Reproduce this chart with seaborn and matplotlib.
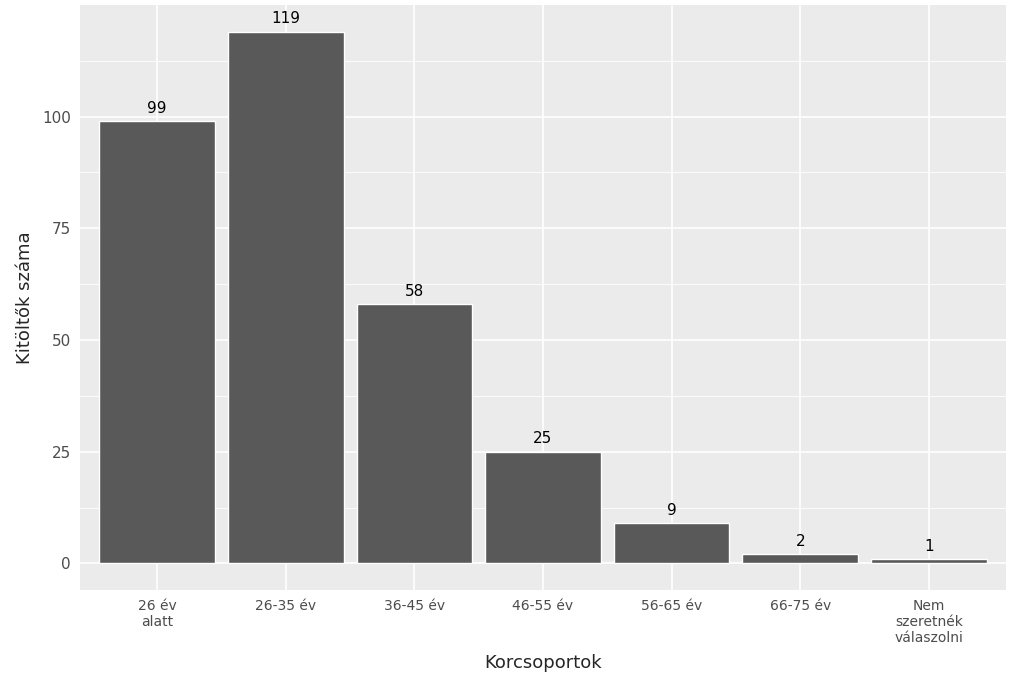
import matplotlib
matplotlib.use('Agg')
import matplotlib.pyplot as plt
import seaborn as sns
import pandas as pd

categories = ['26 év\nalatt', '26-35 év', '36-45 év', '46-55 év', '56-65 év', '66-75 év', 'Nem\nszeretnék\nválaszolni']
counts = [99, 119, 58, 25, 9, 2, 1]
y_ticks = [0, 25, 50, 75, 100]

df = pd.DataFrame({'kor': categories, 'n': counts})

sns.set_theme(style='darkgrid')
plt.rcParams['font.family'] = ['DejaVu Sans']

fig = plt.figure(figsize=(10.24, 6.9), dpi=100)
ax = fig.add_axes([80 / 1024, 100 / 690, 926 / 1024, 585 / 690])
ax.set_facecolor('#EBEBEB')

sns.barplot(data=df, x='kor', y='n', color='#595959', width=0.9, saturation=1, ax=ax)
for i, v in enumerate(counts):
    ax.text(i, v + 1.2, str(v), ha='center', va='bottom', fontsize=11, color='black')

ymax = max(counts)
ax.set_ylim(-0.05 * ymax, ymax * 1.05)
ax.set_xlim(-0.6, len(categories) - 0.4)
ax.set_yticks(y_ticks)
ax.set_yticks([12.5, 37.5, 62.5, 87.5, 112.5], minor=True)
ax.grid(which='major', color='white', linewidth=1.2)
ax.grid(which='minor', axis='y', color='white', linewidth=0.6)
ax.set_axisbelow(True)
for s in ax.spines.values():
    s.set_visible(False)
ax.tick_params(axis='both', which='major', length=3, color='#333333', labelsize=10, labelcolor='#4D4D4D')
ax.tick_params(axis='y', which='minor', length=0)
ax.tick_params(axis='y', labelsize=11)
ax.set_xlabel('Korcsoportok', fontsize=13, labelpad=6)
ax.set_ylabel('Kitöltők száma', fontsize=13, labelpad=6)

fig.savefig('out.png', dpi=100)
